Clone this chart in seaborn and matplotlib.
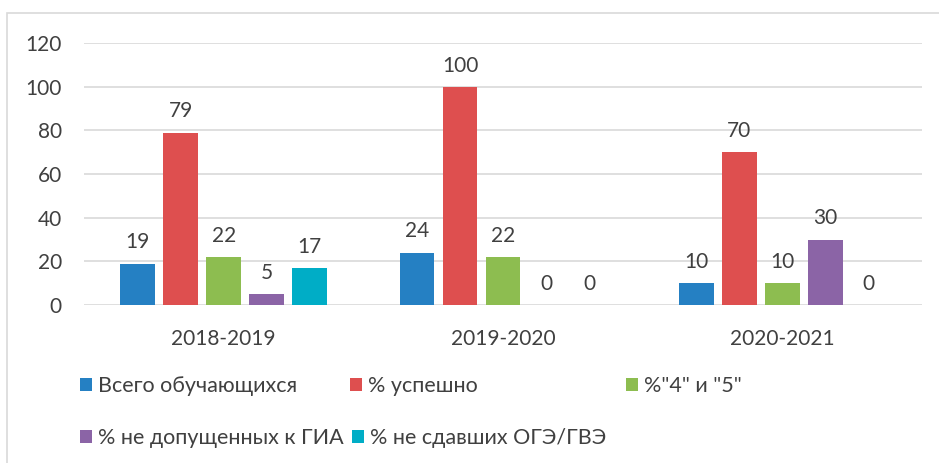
import matplotlib
matplotlib.use("Agg")
import matplotlib.pyplot as plt
import seaborn as sns
import pandas as pd
from matplotlib.patches import Rectangle, Patch

years = ["2018-2019", "2019-2020", "2020-2021"]
series = ["Всего обучающихся", "% успешно", "%\"4\" и \"5\"",
          "% не допущенных к ГИА", "% не сдавших ОГЭ/ГВЭ"]
total = [19, 24, 10]
success = [79, 100, 70]
good = [22, 22, 10]
not_admitted = [5, 0, 30]
failed = [17, 0, 0]
colors = ["#2580c3", "#de4f4f", "#8dbd50", "#8b64a6", "#00adc6"]

values = [total, success, good, not_admitted, failed]
rows = []
for s, vals in zip(series, values):
    for y, v in zip(years, vals):
        rows.append({"year": y, "series": s, "value": v})
df = pd.DataFrame(rows)

sns.set_theme(style="white")
plt.rcParams["font.family"] = ["Lato", "DejaVu Sans"]
text_color = "#404040"

fig = plt.figure(figsize=(9.39, 4.63), dpi=100)
fig.patches.append(Rectangle((7 / 939, -0.1), 1.2, 1 - 13 / 463 + 0.1,
                             transform=fig.transFigure, fill=False,
                             edgecolor="#d9d9d9", linewidth=1.2))
ax = fig.add_axes([84 / 939, 1 - 305 / 463, (922 - 84) / 939, (305 - 43) / 463])

sns.barplot(data=df, x="year", y="value", hue="series", hue_order=series,
            palette=colors, width=0.77, gap=0.2, ax=ax, legend=False,
            saturation=1, edgecolor="none")

ax.set_ylim(0, 120)
ax.set_yticks(range(0, 121, 20))
ax.yaxis.grid(True, color="#d9d9d9", linewidth=1.2)
ax.set_axisbelow(True)
for sp in ax.spines.values():
    sp.set_visible(False)
ax.set_xlabel("")
ax.set_ylabel("")
ax.tick_params(axis="y", labelsize=15, colors=text_color, length=0, pad=16)
ax.tick_params(axis="x", labelsize=15, colors=text_color, length=0, pad=17)

for cont in ax.containers:
    ax.bar_label(cont, fmt="%g", padding=8, fontsize=15, color=text_color)

# legend entries, placed like the Excel legend
leg_x = [80, 350, 626, 80, 352]
leg_y = [386, 386, 386, 438, 438]
for i in range(len(series)):
    h = Patch(facecolor=colors[i], edgecolor="none")
    lg = fig.legend([h], [series[i]], loc="center left",
                    bbox_to_anchor=(leg_x[i] / 939, 1 - leg_y[i] / 463),
                    frameon=False, fontsize=15.5, handlelength=0.55,
                    handleheight=0.55, handletextpad=0.3, borderpad=0,
                    borderaxespad=0, labelcolor=text_color)

fig.savefig("out.png", dpi=100)
